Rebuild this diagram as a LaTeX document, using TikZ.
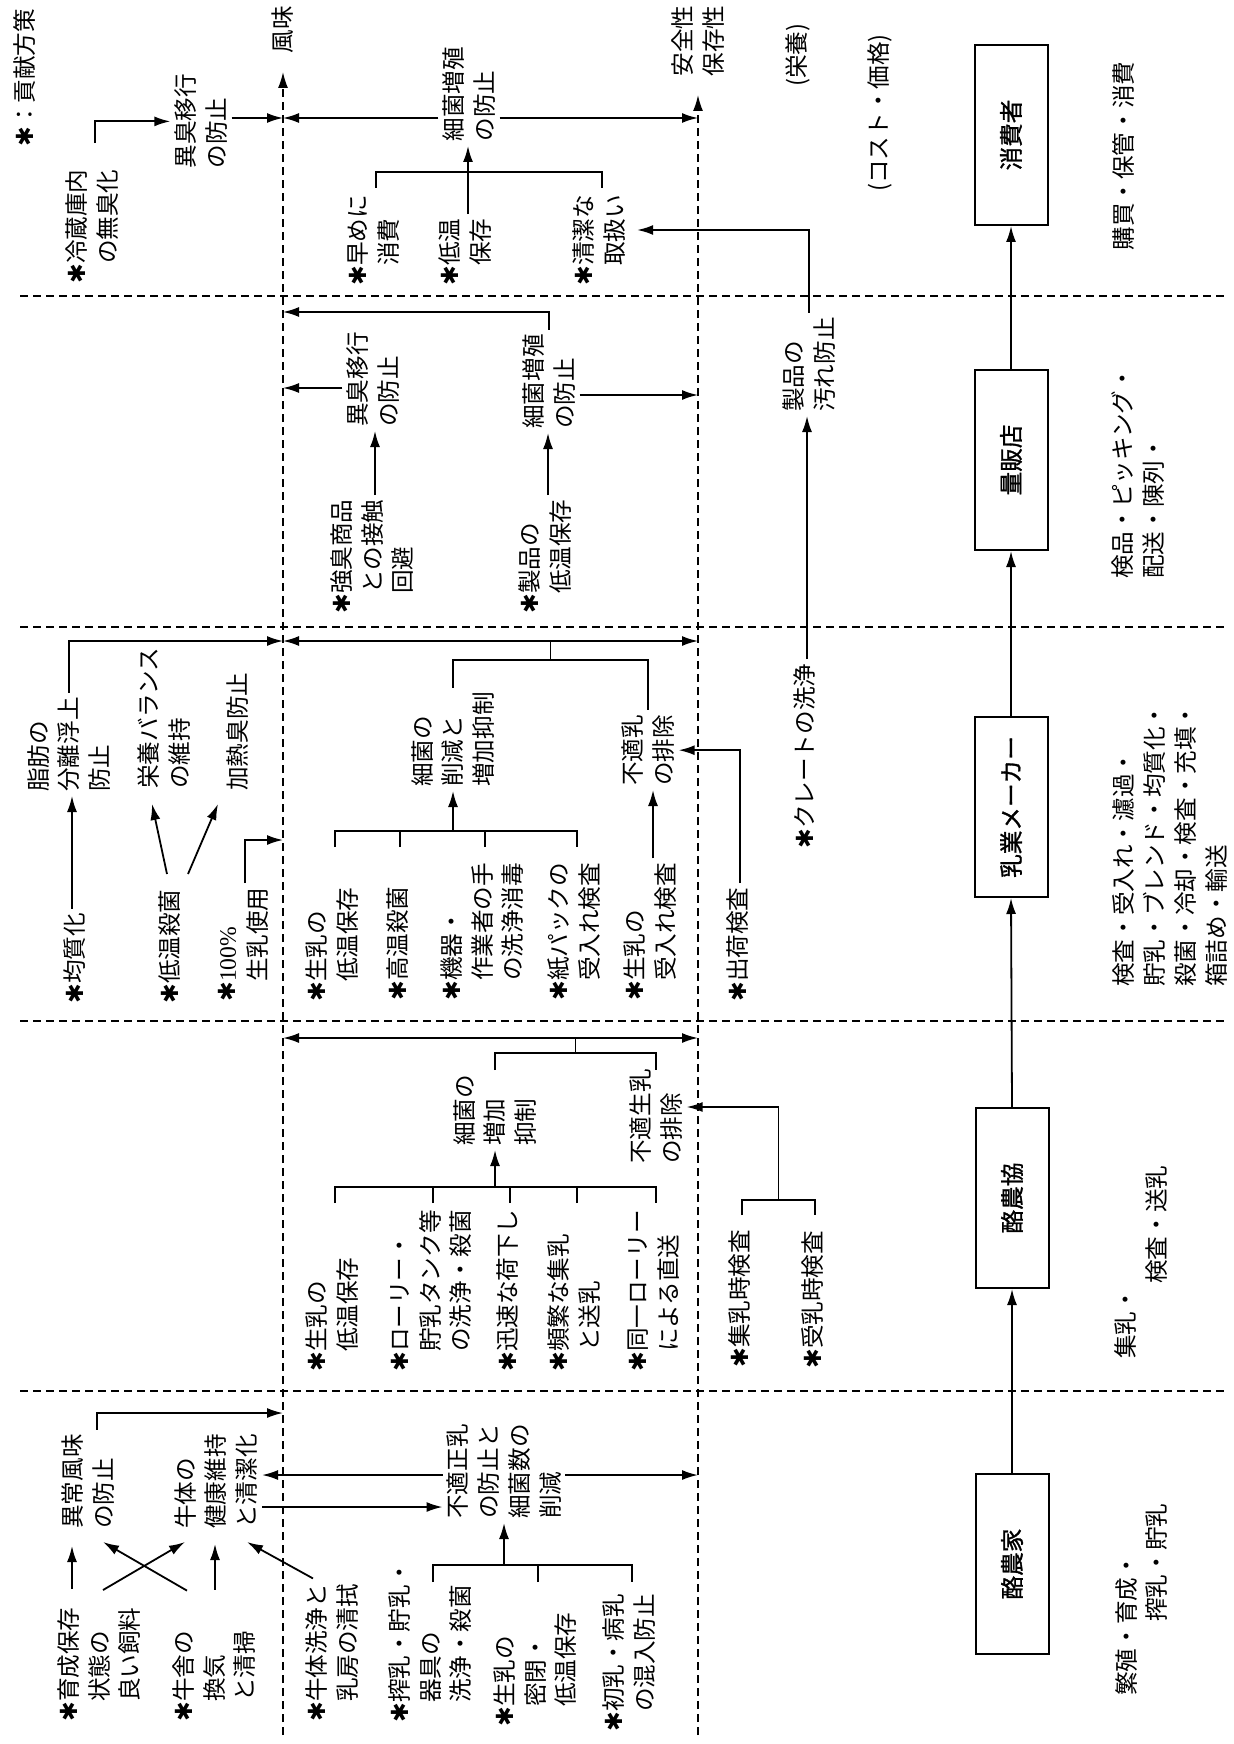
\documentclass[tikz,border=0pt]{standalone}
\usepackage{fontspec}
\setmainfont{Noto Sans CJK JP}
\newfontfamily\stagefont{Noto Sans CJK JP}[FakeBold=1.2]
\newfontfamily\starfont{DejaVu Sans}
\newfontfamily\numfont{Liberation Serif}
\usetikzlibrary{arrows.meta,calc}

\newcommand\hoshi{{\starfont ✱}}
\newcommand\hosaku[1]{\hoshi\begin{tabular}[t]{@{}l@{}}#1\end{tabular}}

\tikzset{
  txt/.style={rotate=90, anchor=west, align=left, inner sep=2pt, font=\fontsize{11.8}{15.4}\selectfont},
  stage/.style={draw, line width=1pt, rotate=90, minimum width=90pt, minimum height=36.5pt, inner sep=2pt, font=\stagefont\fontsize{11.8}{15.4}\selectfont},
  link/.style={line width=0.9pt},
  arr/.style={link, -{Latex[length=8pt,width=5pt]}},
  arrboth/.style={link, {Latex[length=8pt,width=5pt]}-{Latex[length=8pt,width=5pt]}},
  guide/.style={line width=0.8pt, dash pattern=on 4pt off 2.5pt},
}

\begin{document}
\begin{tikzpicture}[x=0.5pt,y=-0.5pt]
\useasboundingbox (0,0) rectangle (1234,1744);

% Stage boundaries
\foreach \y in {296,627,1021,1391}{
  \draw[guide] (20,\y) -- (1228,\y);
}

% Quality axes
\coordinate (fTop) at (283,72);
\coordinate (fBot) at (283,1735);
\coordinate (sTop) at (698,95);
\coordinate (sBot) at (698,1735);
\draw[guide,-{Latex[length=8pt,width=5pt]}] (fBot) -- (fTop);
\draw[guide,-{Latex[length=8pt,width=5pt]}] (sBot) -- (sTop);
\node[txt] (fumi) at (283,58) {風味};
\node[txt] (anzen) at (698,81) {安全性\\保存性};
\node[txt] (eiyo) at (798,91) {(栄養)};
\node[txt] (cost) at (880,196) {(コスト・価格)};
\node[txt] (legend) at (25,151) {\hoshi：貢献方策};

% Stages
\node[stage] (shohi) at (1011,135) {消費者};
\node[stage] (ryohan) at (1011,460) {量販店};
\node[stage] (maker) at (1011,807) {乳業メーカー};
\node[stage] (kyo) at (1012,1198) {酪農協};
\node[stage] (ka) at (1012,1564) {酪農家};
\draw[arr] (ka.east) -- (kyo.west);
\draw[arr] (kyo.east) -- (maker.west);
\draw[arr] (maker.east) -- (ryohan.west);
\draw[arr] (ryohan.east) -- (shohi.west);

% Stage tasks
\node[txt] (kobai) at (1123,255) {購買・保管・消費};
\node[txt] (kenpin) at (1138,583) {検品・ピッキング・\\配送・陳列・};
\node[txt] (seizo) at (1170,991) {検査・受入れ・濾過・\\貯乳・ブレンド・均質化・\\殺菌・冷却・検査・充填・\\箱詰め・輸送};
\node[txt] (shunyu) at (1125,1363) {集乳・};
\node[txt] (sonyu) at (1157,1288) {検査・送乳};
\node[txt] (hanshoku) at (1127,1700) {繁殖・育成・};
\node[txt] (chonyu) at (1157,1626) {搾乳・貯乳};

% Levels
\coordinate (h118) at (0,118);
\coordinate (h172) at (0,172);
\coordinate (h188) at (0,188);
\coordinate (h230) at (0,230);
\coordinate (h312) at (0,312);
\coordinate (h388) at (0,388);
\coordinate (h395) at (0,395);
\coordinate (h641) at (0,641);
\coordinate (h660) at (0,660);
\coordinate (h831) at (0,831);
\coordinate (h840) at (0,840);
\coordinate (h847) at (0,847);
\coordinate (h1038) at (0,1038);
\coordinate (h1053) at (0,1053);
\coordinate (h1070) at (0,1070);
\coordinate (h1107) at (0,1107);
\coordinate (h1187) at (0,1187);
\coordinate (h1200) at (0,1200);
\coordinate (h1203) at (0,1203);
\coordinate (h1215) at (0,1215);
\coordinate (h1413) at (0,1413);
\coordinate (h1475) at (0,1475);
\coordinate (h1507) at (0,1507);
\coordinate (h1565) at (0,1565);
\coordinate (h1582) at (0,1582);

% Consumer
\node[txt] (reizo) at (95,288) {\hosaku{冷蔵庫内\\の無臭化}};
\node[txt] (ishu1) at (201,173) {異臭移行\\の防止};
\node[txt] (kin1) at (469,146) {細菌増殖\\の防止};
\node[txt] (hayame) at (376,290) {\hosaku{早めに\\消費}};
\node[txt] (teion1) at (468,290) {\hosaku{低温\\保存}};
\node[txt] (seiketsu) at (602,290) {\hosaku{清潔な\\取扱い}};

\draw[arr] ([yshift=11pt]reizo.east) |- (ishu1.north);
\draw[arr] (ishu1.south |- h118) -- (fTop |- h118);
\draw[arr] (kin1.north |- h118) -- (fTop |- h118);
\draw[arr] (kin1.south |- h118) -- (sTop |- h118);
\draw[link] (hayame.east |- h188) |- (seiketsu.east |- h172) -- (seiketsu.east |- h188);
\draw[arr] (teion1.east) -- (teion1.east |- kin1.west);

% Mass retailer
\node[txt] (ishu2) at (373,431) {異臭移行\\の防止};
\node[txt] (kin2) at (549,433) {細菌増殖\\の防止};
\node[txt] (kyoshu) at (375,618) {\hosaku{強臭商品\\との接触\\回避}};
\node[txt] (seihin) at (548,618) {\hosaku{製品の\\低温保存}};
\node[txt] (yogore) at (809,416) {製品の\\汚れ防止};

\draw[arr] (yogore.east) |- (seiketsu.south |- h230);
\draw[arr] (kin2.east) |- (fTop |- h312);
\draw[arr] (kin2.south |- h395) -- (sTop |- h395);
\draw[arr] (ishu2.north |- h388) -- (fTop |- h388);
\draw[arr] (kyoshu.east) -- (kyoshu.east |- ishu2.west);
\draw[arr] (seihin.east) -- (seihin.east |- kin2.west);

% Dairy maker
\node[txt] (shibo) at (69,796) {脂肪の\\分離浮上\\防止};
\node[txt] (eiyob) at (164,793) {栄養バランス\\の維持};
\node[txt] (kanetsu) at (238,795) {加熱臭防止};
\node[txt] (saikin3) at (453,791) {細菌の\\削減と\\増加抑制};
\node[txt] (futeki3) at (648,790) {不適乳\\の排除};
\node[txt] (kinshitsu) at (77,1008) {\hosaku{均質化}};
\node[txt] (tsak) at (172,1008) {\hosaku{低温殺菌}};
\node[txt] (nama100) at (245,1006) {\hosaku{{\numfont 100\%}\\生乳使用}};
\node[txt] (seinyu3) at (335,1006) {\hosaku{生乳の\\低温保存}};
\node[txt] (koon) at (400,1005) {\hosaku{高温殺菌}};
\node[txt] (kiki) at (485,1005) {\hosaku{機器・\\作業者の手\\の洗浄消毒}};
\node[txt] (kami) at (577,1005) {\hosaku{紙パックの\\受入れ検査}};
\node[txt] (ukeire) at (653,1005) {\hosaku{生乳の\\受入れ検査}};
\node[txt] (shukka) at (740,1006) {\hosaku{出荷検査}};
\node[txt] (crate) at (807,853) {\hosaku{クレートの洗浄}};

\draw[arr] (crate.east) -- (crate.east |- yogore.west);
\draw[arr] (shibo.east) |- (fTop |- h641);
\draw[arrboth] (fTop |- h641) -- (sTop |- h641);
\draw[link] (saikin3.east) |- (futeki3.east |- h660) -- (futeki3.east);
\coordinate (m3) at ($(saikin3.east |- h660)!0.5!(futeki3.east |- h660)$);
\draw[link] (m3) -- (m3 |- h641);
\draw[arr] ([xshift=-2.5pt]kinshitsu.east) -- ([xshift=-2.5pt]kinshitsu.east |- shibo.west);
\draw[arr] ($(tsak.east)+(-5,-11)$) -- ($(eiyob.west)+(-12,11)$);
\draw[arr] ($(tsak.east)+(16,-11)$) -- ($(kanetsu.west)+(-20,9)$);
\draw[arr] (nama100.east) |- (fTop |- h840);
\draw[link] (seinyu3.east |- h847) |- (kami.east |- h831) -- (kami.east |- h847);
\draw[link] (koon.east |- h847) -- (koon.east |- h831);
\draw[link] (kiki.east |- h847) -- (kiki.east |- h831);
\draw[arr] (saikin3.west |- h831) -- (saikin3.west);
\draw[arr] (ukeire.east) -- (ukeire.east |- futeki3.west);
\draw[arr] (shukka.east) |- (futeki3.south);

% Dairy cooperative
\node[txt] (saikin4) at (495,1150) {細菌の\\増加\\抑制};
\node[txt] (futeki4) at (656,1168) {不適生乳\\の排除};
\node[txt] (seinyu4) at (335,1376) {\hosaku{生乳の\\低温保存}};
\node[txt] (lorry) at (433,1376) {\hosaku{ローリー・\\貯乳タンク等\\の洗浄・殺菌}};
\node[txt] (jinsoku) at (510,1376) {\hosaku{迅速な荷下し}};
\node[txt] (hinpan) at (577,1376) {\hosaku{頻繁な集乳\\と送乳}};
\node[txt] (doitsu) at (656,1376) {\hosaku{同一ローリー\\による直送}};
\node[txt] (shunyuji) at (742,1372) {\hosaku{集乳時検査}};
\node[txt] (junyuji) at (815,1373) {\hosaku{受乳時検査}};

\draw[arrboth] (fTop |- h1038) -- (sTop |- h1038);
\draw[link] (saikin4.east |- h1070) |- (futeki4.east |- h1053) -- (futeki4.east |- h1070);
\coordinate (m4) at ($(saikin4.east |- h1053)!0.5!(futeki4.east |- h1053)$);
\draw[link] (m4) -- (m4 |- h1038);
\draw[link] (seinyu4.east |- h1203) |- (doitsu.east |- h1187) -- (doitsu.east |- h1203);
\draw[link] (lorry.east |- h1203) -- (lorry.east |- h1187);
\draw[link] (jinsoku.east |- h1203) -- (jinsoku.east |- h1187);
\draw[link] (hinpan.east |- h1203) -- (hinpan.east |- h1187);
\draw[arr] (saikin4.west |- h1187) -- (saikin4.west);
\draw[link] (shunyuji.east |- h1215) |- (junyuji.east |- h1200) -- (junyuji.east |- h1215);
\coordinate (m5) at ($(shunyuji.east |- h1200)!0.5!(junyuji.east |- h1200)$);
\draw[arr] (m5) |- (futeki4.south |- h1107);

% Dairy farmer
\node[txt] (ijo) at (88,1533) {異常風味\\の防止};
\node[txt] (gyutai) at (216,1533) {牛体の\\健康維持\\と清潔化};
\node[txt] (futekisei) at (504,1523) {不適正乳\\の防止と\\細菌数の\\削減};
\node[txt] (ikusei) at (102,1726) {\hosaku{育成保存\\状態の\\良い飼料}};
\node[txt] (gyusha) at (217,1726) {\hosaku{牛舎の\\換気\\と清掃}};
\node[txt] (senjo) at (335,1726) {\hosaku{牛体洗浄と\\乳房の清拭}};
\node[txt] (sakunyu) at (433,1727) {\hosaku{搾乳・貯乳・\\器具の\\洗浄・殺菌}};
\node[txt] (mippei) at (538,1731) {\hosaku{生乳の\\密閉・\\低温保存}};
\node[txt] (shonyu) at (632,1736) {\hosaku{初乳・病乳\\の混入防止}};

\draw[arr] ([xshift=4.5pt]ijo.east) |- (fTop |- h1413);
\draw[arr] (futekisei.north |- h1475) -- (gyutai.south |- h1475);
\draw[arr] (gyutai.south |- h1507) -- (futekisei.north |- h1507);
\draw[arr] (futekisei.south |- h1475) -- (sTop |- h1475);
\draw[link] (sakunyu.east |- h1582) |- (shonyu.east |- h1565) -- (shonyu.east |- h1582);
\draw[link] (mippei.east |- h1582) -- (mippei.east |- h1565);
\draw[arr] (futekisei.west |- h1565) -- (futekisei.west);
\draw[arr] ($(ikusei.east)+(-30,-14)$) -- ($(ijo.west)+(-16,13)$);
\draw[arr] ($(ikusei.east)+(1,-13)$) -- ($(gyutai.west)+(-31,9)$);
\draw[arr] ($(gyusha.east)+(-30,-36)$) -- ($(ijo.west)+(15,9)$);
\draw[arr] ($(gyusha.east)+(-2,-37)$) -- ($(gyutai.west)+(-1,11)$);
\draw[arr] ($(senjo.east)+(-22,-1)$) -- ($(gyutai.west)+(31,9)$);

\end{tikzpicture}
\end{document}
